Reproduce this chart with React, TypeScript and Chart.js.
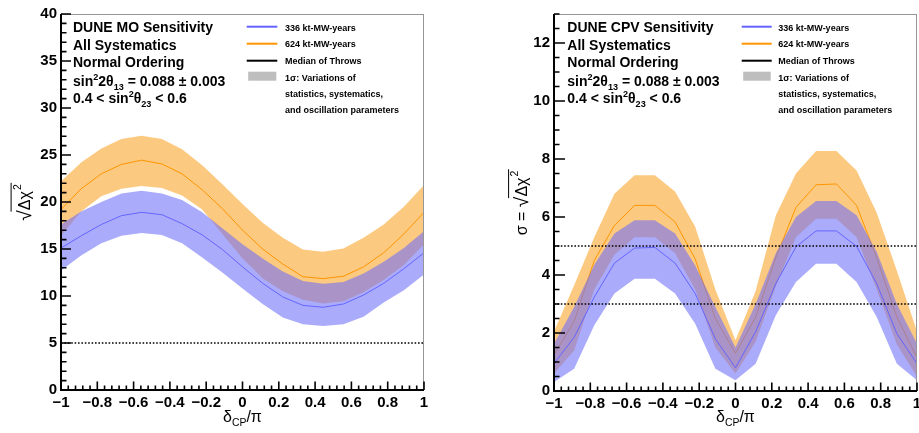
import React, { useEffect, useRef } from "react";
import { Chart, registerables } from "chart.js";

Chart.register(...registerables);

const FONT = "'Liberation Sans', Arial, Helvetica, sans-serif";

// delta_CP / pi sampling points (20 degree steps)
const deltaCP = [-1, -0.889, -0.778, -0.667, -0.556, -0.444, -0.333, -0.222, -0.111, 0, 0.111, 0.222, 0.333, 0.444, 0.556, 0.667, 0.778, 0.889, 1];

const xTickValues = [-1, -0.8, -0.6, -0.4, -0.2, 0, 0.2, 0.4, 0.6, 0.8, 1];
const moYTickValues = [0, 5, 10, 15, 20, 25, 30, 35, 40];
const cpvYTickValues = [0, 2, 4, 6, 8, 10, 12];
const moThresholds = [5];
const cpvThresholds = [3, 5];

// Mass ordering sensitivity
const mo336Median = [15.1, 16.4, 17.6, 18.55, 18.9, 18.65, 17.7, 16.5, 14.95, 13.1, 11.35, 9.9, 9.0, 8.8, 9.15, 10.1, 11.35, 12.9, 14.6];
const mo336Upper = [17.6, 19.0, 20.0, 20.9, 21.2, 20.9, 20.2, 18.9, 17.2, 15.5, 14.0, 12.6, 11.6, 11.3, 11.5, 12.4, 13.65, 15.1, 16.9];
const mo336Lower = [12.7, 14.3, 15.6, 16.4, 16.7, 16.5, 15.6, 14.1, 12.5, 10.8, 9.15, 7.7, 7.0, 6.8, 7.0, 7.8, 9.3, 10.6, 12.3];
const mo624Median = [19.2, 21.4, 23.0, 24.0, 24.45, 24.05, 23.0, 21.3, 19.3, 17.0, 15.0, 13.4, 12.05, 11.85, 12.1, 13.1, 14.6, 16.6, 18.9];
const mo624Upper = [22.2, 24.2, 25.7, 26.7, 27.05, 26.7, 25.6, 23.9, 21.9, 19.8, 17.8, 16.2, 14.95, 14.7, 15.05, 16.2, 17.6, 19.5, 21.8];
const mo624Lower = [16.4, 19.0, 20.6, 21.4, 21.7, 21.5, 20.7, 19.2, 16.6, 14.0, 11.9, 10.5, 9.6, 9.2, 9.45, 10.4, 11.7, 13.3, 15.5];

// CP violation sensitivity
const cpv336Median = [0.95, 1.85, 3.24, 4.41, 4.93, 4.95, 4.41, 3.36, 1.8, 0.8, 2.04, 3.7, 4.97, 5.52, 5.52, 4.99, 3.7, 1.98, 0.94];
const cpv336Upper = [1.63, 2.9, 4.35, 5.43, 5.89, 5.89, 5.43, 4.33, 2.9, 1.5, 3.0, 4.75, 6.0, 6.55, 6.55, 6.06, 4.8, 3.0, 1.63];
const cpv336Lower = [0.31, 0.77, 2.27, 3.36, 3.87, 3.87, 3.36, 2.32, 0.77, 0.37, 0.94, 2.61, 3.76, 4.39, 4.39, 3.76, 2.55, 0.94, 0.37];
const cpv624Median = [1.25, 2.4, 4.5, 5.71, 6.4, 6.4, 5.83, 4.55, 2.5, 1.3, 2.55, 4.6, 6.33, 7.11, 7.14, 6.4, 4.6, 2.55, 1.15];
const cpv624Upper = [2.05, 3.65, 5.3, 6.8, 7.44, 7.44, 6.88, 5.66, 3.5, 1.75, 3.45, 6.05, 7.5, 8.28, 8.28, 7.6, 6.15, 4.15, 2.05];
const cpv624Lower = [0.6, 1.4, 3.5, 4.7, 5.3, 5.3, 4.75, 3.5, 1.5, 0.6, 1.7, 3.6, 5.3, 5.94, 5.94, 5.3, 3.5, 1.6, 0.5];

const legendLabels = ["336 kt-MW-years", "624 kt-MW-years", "Median of Throws", "1σ: Variations of", "statistics, systematics,", "and oscillation parameters"];

const ORANGE_BAND = "rgb(252,201,128)";
const BLUE_BAND = "rgba(110,110,250,0.58)";
const ORANGE_LINE = "rgb(255,150,0)";
const BLUE_LINE = "rgb(100,100,255)";

type Run = { t: string; s?: "sub" | "sup" };

function drawRuns(ctx: CanvasRenderingContext2D, x: number, y: number, runs: Run[], size: number, weight: string, align: "left" | "center" = "left") {
  const parts = runs.map((r) => {
    const fs = r.s ? size * 0.65 : size;
    const font = `${weight} ${fs}px ${FONT}`;
    ctx.font = font;
    return { r, font, w: ctx.measureText(r.t).width };
  });
  const total = parts.reduce((s, p) => s + p.w, 0);
  let cx = align === "center" ? x - total / 2 : x;
  ctx.textAlign = "left";
  ctx.textBaseline = "alphabetic";
  for (const p of parts) {
    ctx.font = p.font;
    const dy = p.r.s === "sub" ? size * 0.3 : p.r.s === "sup" ? -size * 0.42 : 0;
    ctx.fillText(p.r.t, cx, y + dy);
    cx += p.w;
  }
}

interface PanelSpec {
  canvasWidth: number;
  offsetX: number;
  padRight: number;
  yAxisWidth: number;
  xAxisHeight: number;
  yMax: number;
  yTicks: number[];
  yMinorCount: number;
  yMajorLen: number;
  yMinorLen: number;
  thresholds: number[];
  m336: number[]; u336: number[]; l336: number[];
  m624: number[]; u624: number[]; l624: number[];
  heading: string;
  textX: number;
  legX0: number; legX1: number; legTextX: number;
  yTitlePrefix: string;
  yTitleX: number;
}

const moSpec: PanelSpec = {
  canvasWidth: 460, offsetX: 0, padRight: 36, yAxisWidth: 61, xAxisHeight: 43,
  yMax: 40, yTicks: moYTickValues, yMinorCount: 40, yMajorLen: 10, yMinorLen: 5.5,
  thresholds: moThresholds,
  m336: mo336Median, u336: mo336Upper, l336: mo336Lower,
  m624: mo624Median, u624: mo624Upper, l624: mo624Lower,
  heading: "DUNE MO Sensitivity", textX: 73,
  legX0: 246.7, legX1: 277.3, legTextX: 285,
  yTitlePrefix: "", yTitleX: 29.5,
};

const cpvSpec: PanelSpec = {
  canvasWidth: 480, offsetX: 460, padRight: 23, yAxisWidth: 94, xAxisHeight: 42,
  yMax: 13, yTicks: cpvYTickValues, yMinorCount: 26, yMajorLen: 11, yMinorLen: 5.5,
  thresholds: cpvThresholds,
  m336: cpv336Median, u336: cpv336Upper, l336: cpv336Lower,
  m624: cpv624Median, u624: cpv624Upper, l624: cpv624Lower,
  heading: "DUNE CPV Sensitivity", textX: 107.3,
  legX0: 281.7, legX1: 311.7, legTextX: 318.3,
  yTitlePrefix: "σ = ", yTitleX: 67,
};

function fmtTick(v: number, dec: number) {
  const r = Math.round(v * Math.pow(10, dec)) / Math.pow(10, dec);
  if (r === 0) return "0";
  return (r < 0 ? "\u2212" : "") + String(Math.abs(r));
}

function buildConfig(spec: PanelSpec): any {
  const pts = (arr: number[]) => arr.map((y, i) => ({ x: deltaCP[i], y }));
  const hidden = { borderWidth: 0, borderColor: "rgba(0,0,0,0)", pointRadius: 0, pointHoverRadius: 0 };
  const datasets: any[] = [
    { label: "624 upper", data: pts(spec.u624), ...hidden, fill: 1, backgroundColor: ORANGE_BAND, order: 10 },
    { label: "624 lower", data: pts(spec.l624), ...hidden, fill: false, order: 9 },
    { label: "624 median", data: pts(spec.m624), borderColor: ORANGE_LINE, borderWidth: 1, pointRadius: 0, fill: false, order: 8 },
    { label: "336 upper", data: pts(spec.u336), ...hidden, fill: 4, backgroundColor: BLUE_BAND, order: 7 },
    { label: "336 lower", data: pts(spec.l336), ...hidden, fill: false, order: 6 },
    { label: "336 median", data: pts(spec.m336), borderColor: BLUE_LINE, borderWidth: 1, pointRadius: 0, fill: false, order: 5 },
    ...spec.thresholds.map((t) => ({
      label: "thr" + t,
      data: [{ x: -1, y: t }, { x: 1, y: t }],
      borderColor: "#000", borderWidth: 1.5, borderDash: [1.6, 1.8], pointRadius: 0, fill: false, order: 1,
    })),
  ];

  const decorPlugin = {
    id: "decor" + spec.offsetX,
    afterDraw(chart: any) {
      const { ctx, chartArea: a, scales } = chart;
      const xs = scales.x, ys = scales.y;
      ctx.save();
      // frame top & right
      ctx.strokeStyle = "rgb(150,150,150)";
      ctx.lineWidth = 1;
      ctx.beginPath();
      ctx.moveTo(a.left, a.top + 0.5); ctx.lineTo(a.right, a.top + 0.5);
      ctx.moveTo(a.right - 0.5, a.top); ctx.lineTo(a.right - 0.5, a.bottom);
      ctx.stroke();
      // axes
      ctx.strokeStyle = "#000";
      ctx.lineWidth = 2;
      ctx.beginPath();
      ctx.moveTo(a.left, a.top); ctx.lineTo(a.left, a.bottom); ctx.lineTo(a.right, a.bottom);
      ctx.stroke();
      // y ticks
      ctx.lineWidth = 1.6;
      ctx.beginPath();
      for (let i = 0; i <= spec.yMinorCount; i++) {
        const v = (spec.yMax * i) / spec.yMinorCount;
        const major = spec.yTicks.some((t) => Math.abs(t - v) < 1e-6);
        const y = ys.getPixelForValue(v);
        ctx.moveTo(a.left, y);
        ctx.lineTo(a.left + (major ? spec.yMajorLen : spec.yMinorLen), y);
      }
      // x ticks
      for (let i = 0; i <= 50; i++) {
        const v = -1 + i * 0.04;
        const major = i % 5 === 0;
        const x = xs.getPixelForValue(v);
        ctx.moveTo(x, a.bottom);
        ctx.lineTo(x, a.bottom - (major ? 8.5 : 4.5));
      }
      ctx.stroke();

      ctx.fillStyle = "#000";
      // x title
      drawRuns(ctx, (a.left + a.right) / 2, 421.5, [{ t: "δ" }, { t: "CP", s: "sub" }, { t: "/π" }], 16, "normal", "center");

      // y title
      ctx.save();
      ctx.translate(spec.yTitleX, (a.top + a.bottom) / 2);
      ctx.rotate(-Math.PI / 2);
      const size = 16;
      ctx.textBaseline = "alphabetic";
      ctx.textAlign = "left";
      ctx.font = `${size}px ${FONT}`;
      const wPre = spec.yTitlePrefix ? ctx.measureText(spec.yTitlePrefix).width : 0;
      ctx.font = `${size * 1.2}px ${FONT}`;
      const wRad = ctx.measureText("√").width;
      ctx.font = `${size}px ${FONT}`;
      const wDx = ctx.measureText("Δχ").width;
      ctx.font = `${size * 0.65}px ${FONT}`;
      const wSup = ctx.measureText("2").width;
      const total = wPre + wRad + wDx + wSup + 2;
      let tx = -total / 2;
      ctx.font = `${size}px ${FONT}`;
      if (spec.yTitlePrefix) ctx.fillText(spec.yTitlePrefix, tx, 0);
      tx += wPre;
      ctx.font = `${size * 1.2}px ${FONT}`;
      ctx.fillText("√", tx, 1);
      const radEnd = tx + wRad;
      tx += wRad;
      ctx.font = `${size}px ${FONT}`;
      ctx.fillText("Δχ", tx, 0);
      tx += wDx;
      ctx.font = `${size * 0.65}px ${FONT}`;
      ctx.fillText("2", tx + 1, -size * 0.55);
      ctx.lineWidth = 1;
      ctx.strokeStyle = "#000";
      ctx.beginPath();
      ctx.moveTo(radEnd - 1.5, -size * 1.15);
      ctx.lineTo(tx + wSup + 2.5, -size * 1.15);
      ctx.stroke();
      ctx.restore();

      // annotation text
      const textLines: Run[][] = [
        [{ t: spec.heading }],
        [{ t: "All Systematics" }],
        [{ t: "Normal Ordering" }],
        [{ t: "sin" }, { t: "2", s: "sup" }, { t: "2θ" }, { t: "13", s: "sub" }, { t: " = 0.088 ± 0.003" }],
        [{ t: "0.4 < sin" }, { t: "2", s: "sup" }, { t: "θ" }, { t: "23", s: "sub" }, { t: " < 0.6" }],
      ];
      const baselines = [32, 49.5, 67, 85.5, 103];
      textLines.forEach((runs, i) => drawRuns(ctx, spec.textX, baselines[i], runs, 14, "bold"));

      // legend
      const legColors = [BLUE_LINE, ORANGE_LINE, "#000"];
      const legY = [26.7, 43.7, 60.7];
      ctx.lineWidth = 2;
      legColors.forEach((c, i) => {
        ctx.strokeStyle = c;
        ctx.beginPath();
        ctx.moveTo(spec.legX0, legY[i]);
        ctx.lineTo(spec.legX1, legY[i]);
        ctx.stroke();
      });
      ctx.fillStyle = "rgb(190,190,190)";
      ctx.fillRect(spec.legX0 + 1.5, 71.7, spec.legX1 - spec.legX0 - 2.5, 9);
      ctx.fillStyle = "#000";
      const legBase = [30.5, 47.3, 64, 80.7, 97.3, 113.3];
      legendLabels.forEach((t, i) => {
        ctx.font = `bold 9px ${FONT}`;
        ctx.textAlign = "left";
        ctx.textBaseline = "alphabetic";
        ctx.fillText(t, spec.legTextX, legBase[i]);
      });
      ctx.restore();
    },
  };

  return {
    type: "line",
    data: { datasets },
    options: {
      animation: false,
      responsive: false,
      devicePixelRatio: 1,
      events: [],
      layout: { padding: { left: 0, right: spec.padRight, top: 14, bottom: 0 } },
      plugins: {
        legend: { display: false },
        tooltip: { enabled: false },
        filler: { drawTime: "beforeDatasetDraw" },
      },
      elements: { line: { tension: 0 } },
      scales: {
        x: {
          type: "linear",
          min: -1,
          max: 1,
          grid: { display: false, drawTicks: false },
          border: { display: false },
          ticks: {
            color: "#000",
            font: { family: FONT, size: 15, weight: "bold" },
            padding: 4,
            autoSkip: false,
            maxRotation: 0,
            callback: (v: number) => fmtTick(v, 1),
          },
          afterBuildTicks: (s: any) => { s.ticks = xTickValues.map((v) => ({ value: v })); },
          afterFit: (s: any) => { s.height = spec.xAxisHeight; },
        },
        y: {
          type: "linear",
          min: 0,
          max: spec.yMax,
          grid: { display: false, drawTicks: false },
          border: { display: false },
          ticks: {
            color: "#000",
            font: { family: FONT, size: 15, weight: "bold" },
            padding: 4,
            autoSkip: false,
            callback: (v: number) => fmtTick(v, 0),
          },
          afterBuildTicks: (s: any) => { s.ticks = spec.yTicks.map((v) => ({ value: v })); },
          afterFit: (s: any) => { s.width = spec.yAxisWidth; },
        },
      },
    },
    plugins: [decorPlugin],
  };
}

function PanelChart({ spec }: { spec: PanelSpec }) {
  const ref = useRef<HTMLCanvasElement>(null);
  useEffect(() => {
    const chart = new Chart(ref.current as HTMLCanvasElement, buildConfig(spec));
    return () => chart.destroy();
  }, [spec]);
  return (
    <canvas
      ref={ref}
      width={spec.canvasWidth}
      height={433}
      style={{ position: "absolute", left: spec.offsetX, top: 0, width: spec.canvasWidth, height: 433 }}
    />
  );
}

export default function App() {
  return (
    <div style={{ position: "fixed", left: 0, top: 0, width: 919, height: 433, overflow: "hidden", background: "#fff" }}>
      <PanelChart spec={moSpec} />
      <PanelChart spec={cpvSpec} />
    </div>
  );
}
